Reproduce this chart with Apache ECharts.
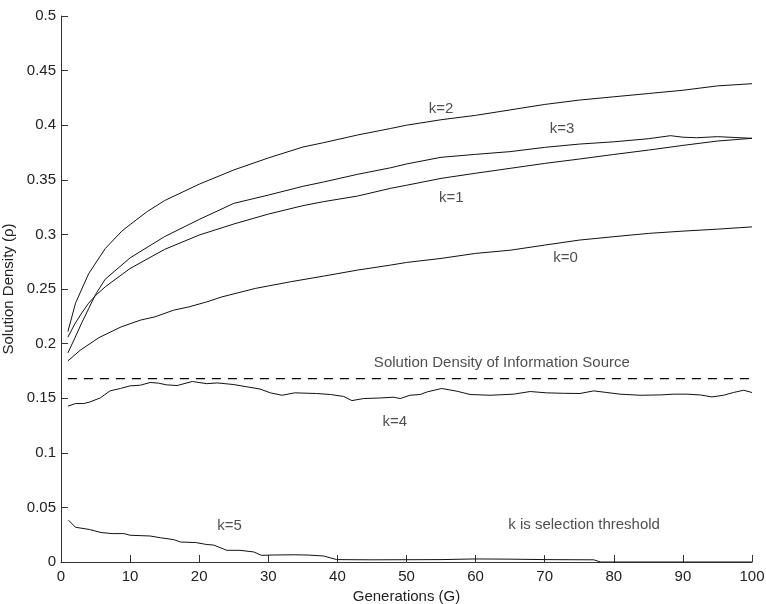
<!DOCTYPE html>
<html>
<head>
<meta charset="utf-8">
<script src="https://cdn.jsdelivr.net/npm/echarts@6/dist/echarts.min.js"></script>
<style>
  html, body { margin: 0; padding: 0; background: #fff; }
  #main { width: 766px; height: 604px; }
</style>
</head>
<body>
<div id="main"></div>
<script>
// generations (x) and solution density (y) for each selection threshold k
var genK0 = [1, 2.8, 5.5, 8.7, 11.5, 13.6, 16.3, 18.5, 21.1, 23.3, 28.1, 33.2, 38, 42.9, 47.7, 50, 55, 60, 65, 70, 75, 80, 85, 90, 95, 100];
var rhoK0 = [0.1842, 0.194, 0.2055, 0.2153, 0.2215, 0.2245, 0.2306, 0.2336, 0.2382, 0.2428, 0.2505, 0.2566, 0.2618, 0.2673, 0.2719, 0.2743, 0.278, 0.2826, 0.2855, 0.2902, 0.2948, 0.2979, 0.3009, 0.303, 0.3048, 0.3069];

var genK1 = [1, 2, 3, 4, 5, 6.4, 10, 15, 20, 25, 30, 35, 38, 42.9, 47.7, 50, 55, 60, 65, 70, 75, 80, 85, 90, 95, 100];
var rhoK1 = [0.206, 0.218, 0.228, 0.237, 0.244, 0.252, 0.2688, 0.2863, 0.2994, 0.3095, 0.3186, 0.3263, 0.330, 0.3351, 0.3422, 0.345, 0.3513, 0.356, 0.3605, 0.365, 0.369, 0.3732, 0.3772, 0.3815, 0.3855, 0.388];

var genK2 = [1, 2.1, 4, 6.4, 8.8, 10, 12.5, 15, 20, 25, 30, 35, 38, 42.9, 47.7, 50, 55, 60, 65, 70, 75, 80, 85, 90, 95, 100];
var rhoK2 = [0.211, 0.237, 0.264, 0.287, 0.303, 0.309, 0.321, 0.331, 0.346, 0.359, 0.370, 0.380, 0.384, 0.391, 0.397, 0.400, 0.405, 0.409, 0.414, 0.419, 0.423, 0.426, 0.429, 0.432, 0.436, 0.438];

var genK3 = [1, 2, 3, 4, 5, 6.4, 10, 15, 20, 25, 30, 35, 38, 42.9, 47.7, 50, 55, 60, 65, 70, 75, 80, 85, 88.2, 90, 92, 95, 100];
var rhoK3 = [0.1915, 0.205, 0.219, 0.232, 0.245, 0.259, 0.2785, 0.298, 0.3137, 0.3284, 0.336, 0.344, 0.348, 0.355, 0.361, 0.3645, 0.3706, 0.3733, 0.3758, 0.3797, 0.3827, 0.3848, 0.3876, 0.3904, 0.389, 0.3885, 0.3895, 0.388];

var genK4 = [1, 2.1, 3.3, 4.2, 5.7, 7.1, 8.6, 10, 11.5, 12.9, 14.1, 15.3, 16.8, 19, 21.1, 22.6, 25, 26.9, 28.8, 30.3, 32, 33.8, 37, 39, 40.9, 42.1, 43.8, 46.2, 48.1, 49.1, 50.5, 52, 53, 55.1, 57.3, 59.2, 62.1, 65.5, 67.9, 70.3, 72.7, 75.1, 77.1, 79, 80.9, 83.8, 86.7, 88.7, 90.6, 92.5, 94.2, 95.9, 97.3, 98.8, 100];
var rhoK4 = [0.1427, 0.1451, 0.1451, 0.1466, 0.1503, 0.1567, 0.1589, 0.1613, 0.1619, 0.1644, 0.1638, 0.1622, 0.1616, 0.1653, 0.1633, 0.164, 0.1625, 0.1604, 0.1584, 0.1549, 0.1527, 0.1549, 0.1543, 0.1534, 0.1516, 0.1478, 0.1497, 0.1502, 0.1509, 0.1497, 0.1527, 0.1534, 0.1558, 0.1589, 0.1564, 0.1534, 0.1527, 0.1537, 0.1561, 0.1549, 0.1545, 0.1543, 0.1567, 0.1552, 0.1537, 0.1527, 0.153, 0.1537, 0.1537, 0.153, 0.1512, 0.1527, 0.1552, 0.1573, 0.1552];

var genK5 = [1.1, 2.1, 4.1, 5.8, 7.4, 9.1, 10, 12.9, 14.4, 16.3, 17.3, 19.5, 21.1, 22.1, 24, 25.9, 27.9, 29, 30.8, 33.7, 35.6, 38, 39.9, 45, 55, 60, 65, 70, 77.1, 78.1, 85, 100];
var rhoK5 = [0.0382, 0.0318, 0.0298, 0.027, 0.026, 0.026, 0.0245, 0.0238, 0.0222, 0.0205, 0.0183, 0.0178, 0.016, 0.0155, 0.0107, 0.0107, 0.0092, 0.0061, 0.0064, 0.0066, 0.0064, 0.0055, 0.0022, 0.002, 0.0022, 0.0028, 0.0026, 0.0022, 0.002, 0, 0, 0];

// density of the information source (dashed reference line)
var sourceDensity = 0.168;
var sourceGen = [1, 100];

// text annotations, placed in data coordinates
var noteText = ['k=2', 'k=3', 'k=1', 'k=0', 'k=4', 'k=5', 'Solution Density of Information Source', 'k is selection threshold'];
var noteGen = [55.0, 72.5, 56.5, 73.0, 48.3, 24.4, 63.8, 75.7];
var noteRho = [0.4148, 0.3971, 0.3335, 0.2789, 0.1283, 0.0327, 0.1827, 0.0336];

var myChart = echarts.init(document.getElementById('main'));

function pairs(xs, ys) {
    var out = [];
    for (var i = 0; i < xs.length; i++) out.push([xs[i], ys[i]]);
    return out;
}

function curve(name, xs, ys) {
    return {
        name: name,
        type: 'line',
        data: pairs(xs, ys),
        showSymbol: false,
        symbol: 'none',
        lineStyle: { color: '#111', width: 1 },
        z: 3
    };
}

var fontName = 'Liberation Sans, Arial, sans-serif';
var txtFont = { fontFamily: fontName, fontSize: 15, color: '#222' };

var notes = [];
for (var i = 0; i < noteText.length; i++) {
    notes.push({ name: noteText[i], value: [noteGen[i], noteRho[i]] });
}

var option = {
    animation: false,
    backgroundColor: '#fff',
    grid: { left: 61, right: 14, top: 16, bottom: 42, containLabel: false, outerBoundsMode: 'none' },
    xAxis: {
        type: 'value',
        min: 0, max: 100, interval: 10,
        name: 'Generations (G)',
        nameLocation: 'middle',
        nameGap: 26,
        nameTextStyle: txtFont,
        axisLine: { lineStyle: { color: '#333', width: 1 } },
        axisTick: { inside: true, length: 7, lineStyle: { color: '#333' } },
        axisLabel: { margin: 7, fontFamily: fontName, fontSize: 15, color: '#222' },
        splitLine: { show: false }
    },
    yAxis: {
        type: 'value',
        min: 0, max: 0.5, interval: 0.05,
        name: 'Solution Density (ρ)',
        nameLocation: 'middle',
        nameGap: 38,
        nameTextStyle: txtFont,
        axisLine: { show: true, lineStyle: { color: '#333', width: 1 } },
        axisTick: { show: true, inside: true, length: 7, lineStyle: { color: '#333' } },
        axisLabel: {
            margin: 5, fontFamily: fontName, fontSize: 15, color: '#222',
            formatter: function (v) { return String(Math.round(v * 100) / 100); }
        },
        splitLine: { show: false }
    },
    series: [
        curve('k=0', genK0, rhoK0),
        curve('k=1', genK1, rhoK1),
        curve('k=2', genK2, rhoK2),
        curve('k=3', genK3, rhoK3),
        curve('k=4', genK4, rhoK4),
        curve('k=5', genK5, rhoK5),
        {
            name: 'source',
            type: 'line',
            data: pairs(sourceGen, [sourceDensity, sourceDensity]),
            symbol: 'none',
            lineStyle: { color: '#000', width: 1.2, type: [9, 7] }
        },
        {
            name: 'notes',
            type: 'scatter',
            data: notes,
            symbolSize: 0,
            silent: true,
            label: {
                show: true,
                position: 'inside',
                formatter: function (p) { return p.name; },
                fontFamily: fontName,
                fontSize: 15,
                color: '#222'
            }
        }
    ]
};

myChart.setOption(option);
</script>
</body>
</html>
